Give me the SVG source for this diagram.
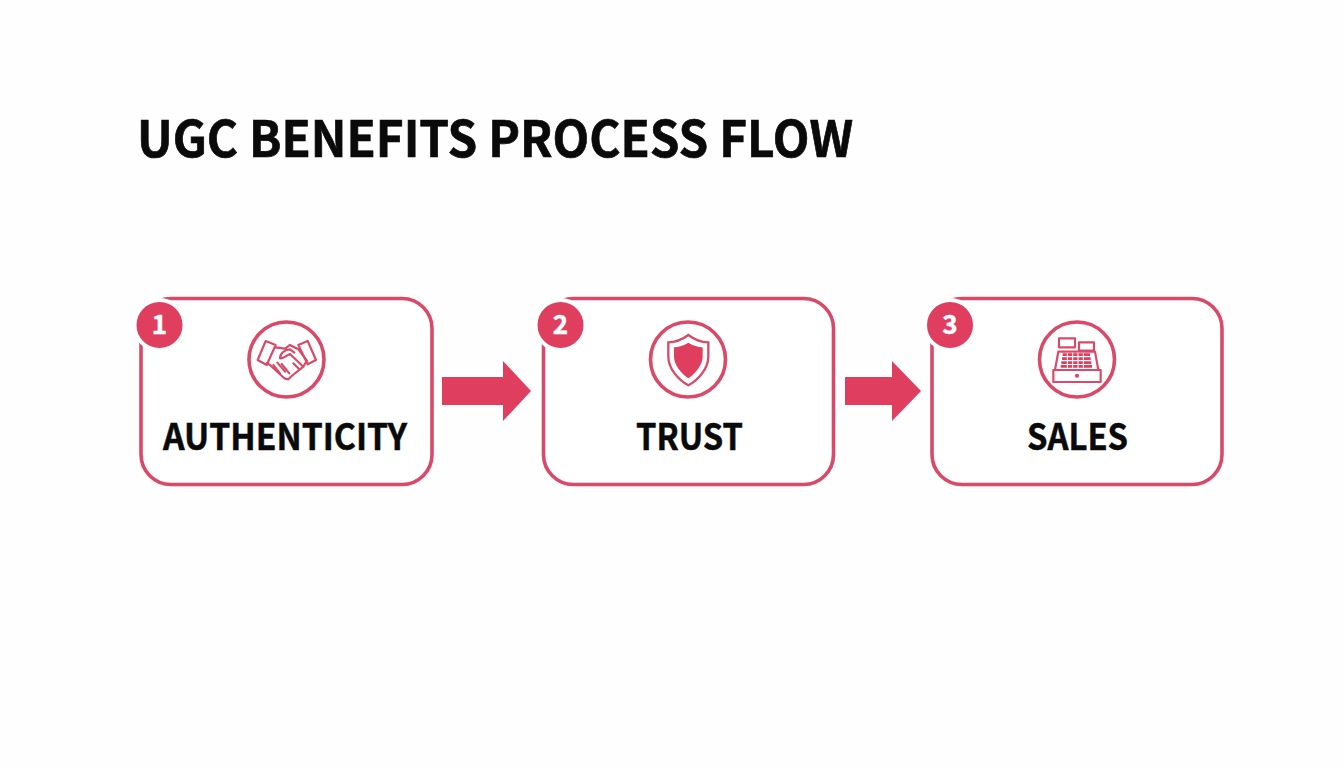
<svg xmlns="http://www.w3.org/2000/svg" width="1344" height="768" viewBox="0 0 1344 768">
<style>
.t{font-family:"Noto Sans CJK SC","Noto Sans","Liberation Sans",sans-serif;font-weight:700;fill:#0a0a0a;stroke:#0a0a0a;stroke-width:.7}
.card{fill:#fff;stroke:#d94a68;stroke-width:3.6}
.ring{fill:#fff;stroke:#d94a68;stroke-width:3.6}
.badge{fill:#e03e5e;stroke:#fff;stroke-width:4}
.num{font-family:"Noto Sans CJK SC","Noto Sans","Liberation Sans",sans-serif;font-weight:700;font-size:26px;fill:#fff;text-anchor:middle;stroke:#fff;stroke-width:.5}
.label{font-size:36px;text-anchor:middle;stroke-width:.5}
.ic{fill:none;stroke:#d94a68;stroke-width:6.5;stroke-linejoin:round;stroke-linecap:round}
.arrow{fill:#e03e5e}
</style>
<rect width="1344" height="768" fill="#fefefe"/>
<text class="t" x="137" y="157" font-size="50" textLength="716" lengthAdjust="spacingAndGlyphs">UGC BENEFITS PROCESS FLOW</text>
<g id="connectors">
<polygon class="arrow" points="442,377 503,377 503,361 531,391 503,421 503,405 442,405"/>
<polygon class="arrow" points="845,377 892,377 892,361 921,391 892,421 892,405 845,405"/>
</g>
<g id="node-1">
<rect class="card" x="141" y="298.500" width="291" height="186" rx="30"/>
<circle class="badge" cx="159.500" cy="325" r="25"/>
<text class="num" x="159.500" y="334">1</text>
<circle class="ring" cx="286.500" cy="359.500" r="37.500"/>
<g transform="translate(235 310) scale(.3333)">
<path class="ic" d="M68 150L92 93L122 105L95 165ZM190 105L218 93L243 150L218 163Z"/>
<path class="ic" d="M122 112L150 116L165 105L190 118L216 152M95 160L105 165L148 205L160 208L170 198L205 170L216 152M135 145C135 130 150 118 165 118L178 128M135 145C145 148 155 135 165 132L205 170"/>
<path class="ic" d="M115 165L135 190M127 158L150 185M140 162L163 190M175 160L193 178"/>
</g>
<text class="t label" x="285" y="450" textLength="244" lengthAdjust="spacingAndGlyphs">AUTHENTICITY</text>
</g>
<g id="node-2">
<rect class="card" x="543.500" y="298.500" width="290" height="186" rx="30"/>
<circle class="badge" cx="560.500" cy="325" r="25"/>
<text class="num" x="560.500" y="334">2</text>
<circle class="ring" cx="688" cy="359.500" r="37.500"/>
<g transform="translate(640 310) scale(.3333)">
<path d="M145 75C125 90 105 97 85 97V140C85 175 115 210 145 226C175 210 205 175 205 140V97C185 97 165 90 145 75Z" fill="none" stroke="#d94a68" stroke-width="7"/>
<path d="M145 98C130 107 117 111 102 112V140C102 165 125 192 145 205C165 192 188 165 188 140V112C173 111 160 107 145 98Z" fill="#e03e5e"/>
</g>
<text class="t label" x="689.500" y="450" textLength="107" lengthAdjust="spacingAndGlyphs">TRUST</text>
</g>
<g id="node-3">
<rect class="card" x="932" y="298.500" width="290" height="186" rx="30"/>
<circle class="badge" cx="950" cy="325" r="25"/>
<text class="num" x="950" y="334">3</text>
<circle class="ring" cx="1077" cy="359.500" r="37.500"/>
<g transform="translate(1030 310) scale(.3333)">
<path class="ic" d="M87 85H135V112H87ZM147 97H192V122H147ZM85 125H195L205 180H75ZM70 180H212V216H70Z"/>
<path d="M98 130h82v8h-82zM96 142h86v8h-86zM94 154h90v8h-90zM92 165h94v8h-94z" fill="#e03e5e"/>
<path d="M112 128v46M128 128v46M144 128v46M160 128v46" stroke="#fff" stroke-width="3"/>
<circle cx="141" cy="197" r="6" fill="#e03e5e"/>
</g>
<text class="t label" x="1077.500" y="450" textLength="101" lengthAdjust="spacingAndGlyphs">SALES</text>
</g>
</svg>
